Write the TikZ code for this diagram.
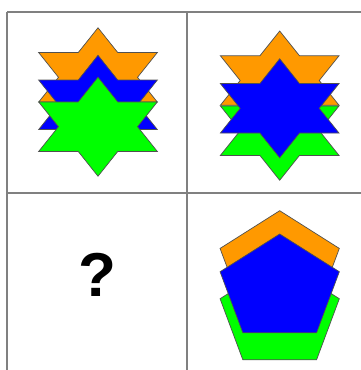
\documentclass[tikz,border=0pt]{standalone}
\usepackage{fontspec}
\setmainfont{Liberation Sans}
\definecolor{sorange}{HTML}{FF9900}
\definecolor{sblue}{HTML}{0000FF}
\definecolor{sgreen}{HTML}{00FF00}
\definecolor{gridgray}{HTML}{808080}
\definecolor{edgegray}{HTML}{505050}
\tikzset{
  gridline/.style={draw=gridgray, line width=1.3pt},
  shapefill/.style={draw=edgegray, line width=0.7pt, line join=miter},
}
\newcommand\hexstar[3]{% cx, cy, colour
  \begin{scope}[shift={(#1,#2)}, xscale=68.5, yscale=49.5]
    \path[shapefill, fill=#3] (0,-1) -- (0.2887,-0.5) -- (0.866,-0.5) -- (0.577,0)
      -- (0.866,0.5) -- (0.2887,0.5) -- (0,1) -- (-0.2887,0.5) -- (-0.866,0.5)
      -- (-0.577,0) -- (-0.866,-0.5) -- (-0.2887,-0.5) -- cycle;
  \end{scope}}
\newcommand\pentashape[3]{% cx, cy, colour
  \begin{scope}[shift={(#1,#2)}, xscale=62.7, yscale=54.6]
    \path[shapefill, fill=#3] (0,-1) -- (0.951,-0.309) -- (0.588,0.809)
      -- (-0.588,0.809) -- (-0.951,-0.309) -- cycle;
  \end{scope}}
\begin{document}
\begin{tikzpicture}[x=1pt, y=-1pt]
  \useasboundingbox (0,0) rectangle (360,370);
  % grid
  \draw[gridline] (7,12) -- (380,12);
  \draw[gridline] (7,193) -- (380,193);
  \draw[gridline] (7,12) -- (7,390);
  \draw[gridline] (187,12) -- (187,390);
  % top-left
  \hexstar{98}{77.3}{sorange}
  \hexstar{98}{104.8}{sblue}
  \hexstar{98}{126.7}{sgreen}
  % top-right
  \hexstar{279.7}{80.5}{sorange}
  \hexstar{279.7}{130.7}{sgreen}
  \hexstar{279.7}{108.3}{sblue}
  % bottom-left
  \node (q) at (97,275) {\fontsize{62}{62}\selectfont\bfseries ?};
  % bottom-right
  \pentashape{279.7}{265.3}{sorange}
  \pentashape{279.7}{315.6}{sgreen}
  \pentashape{279.7}{288.6}{sblue}
\end{tikzpicture}
\end{document}
